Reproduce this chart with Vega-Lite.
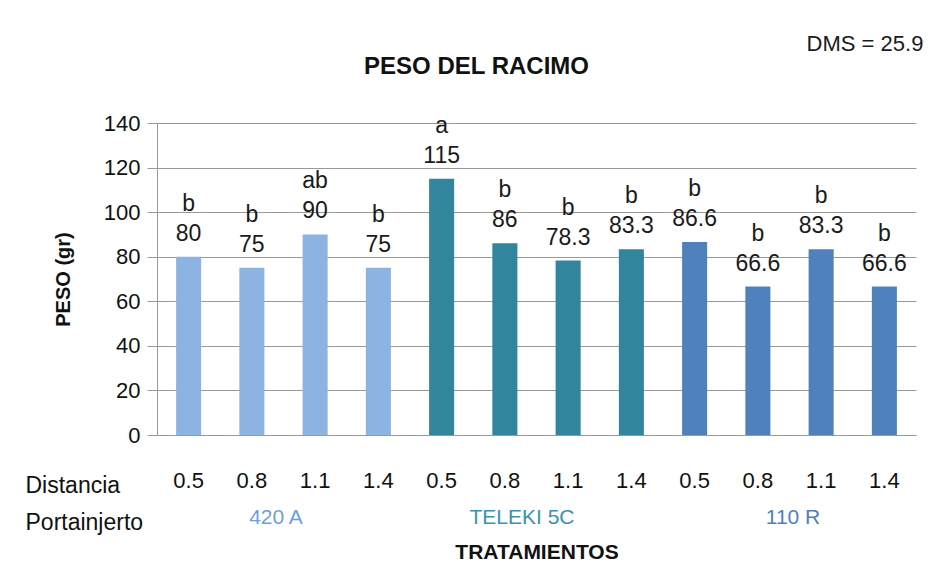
{
  "$schema": "https://vega.github.io/schema/vega-lite/v6.json",
  "width": 759,
  "height": 312,
  "autosize": {"type": "none"},
  "padding": {"left": 157, "top": 123, "right": 16, "bottom": 131},
  "background": "white",
  "config": {
    "font": "Liberation Sans",
    "view": {"stroke": null},
    "axis": {"labelColor": "#111111", "titleColor": "#111111"}
  },
  "title": {
    "text": "PESO DEL RACIMO",
    "fontSize": 24,
    "fontWeight": "bold",
    "anchor": "middle",
    "frame": "group",
    "dx": -60,
    "offset": -46,
    "color": "#111111"
  },
  "data": {
    "values": [
      {"id": 1, "portainjerto": "420 A", "distancia": "0.5", "peso": 80, "letra": "b"},
      {"id": 2, "portainjerto": "420 A", "distancia": "0.8", "peso": 75, "letra": "b"},
      {"id": 3, "portainjerto": "420 A", "distancia": "1.1", "peso": 90, "letra": "ab"},
      {"id": 4, "portainjerto": "420 A", "distancia": "1.4", "peso": 75, "letra": "b"},
      {"id": 5, "portainjerto": "TELEKI 5C", "distancia": "0.5", "peso": 115, "letra": "a"},
      {"id": 6, "portainjerto": "TELEKI 5C", "distancia": "0.8", "peso": 86, "letra": "b"},
      {"id": 7, "portainjerto": "TELEKI 5C", "distancia": "1.1", "peso": 78.3, "letra": "b"},
      {"id": 8, "portainjerto": "TELEKI 5C", "distancia": "1.4", "peso": 83.3, "letra": "b"},
      {"id": 9, "portainjerto": "110 R", "distancia": "0.5", "peso": 86.6, "letra": "b"},
      {"id": 10, "portainjerto": "110 R", "distancia": "0.8", "peso": 66.6, "letra": "b"},
      {"id": 11, "portainjerto": "110 R", "distancia": "1.1", "peso": 83.3, "letra": "b"},
      {"id": 12, "portainjerto": "110 R", "distancia": "1.4", "peso": 66.6, "letra": "b"}
    ]
  },
  "layer": [
    {
      "encoding": {
        "x": {
          "field": "id",
          "type": "ordinal",
          "scale": {"paddingInner": 0.604, "paddingOuter": 0.302},
          "axis": {
            "labelExpr": "['0.5','0.8','1.1','1.4'][(datum.value-1)%4]",
            "labelAngle": 0,
            "labelFontSize": 22,
            "labelPadding": 35,
            "ticks": false,
            "tickSize": 0,
            "domain": true,
            "domainColor": "#999999",
            "grid": false,
            "title": ["Distancia", "Portainjerto"],
            "titleFontSize": 23,
            "titleFontWeight": "normal",
            "titleAlign": "left",
            "titleX": -132,
            "titleY": 39,
            "titleBaseline": "top",
            "titleLineHeight": 37
          }
        },
        "y": {
          "field": "peso",
          "type": "quantitative",
          "scale": {"domain": [0, 140], "nice": false},
          "axis": {
            "values": [0, 20, 40, 60, 80, 100, 120, 140],
            "title": "PESO (gr)",
            "titleFontSize": 20,
            "titleFontWeight": "bold",
            "titlePadding": 30,
            "labelFontSize": 22,
            "labelPadding": 7,
            "tickSize": 10,
            "tickColor": "#999999",
            "domainColor": "#999999",
            "gridColor": "#999999",
            "grid": true
          }
        }
      },
      "layer": [
        {
          "mark": {"type": "bar"},
          "encoding": {
            "color": {
              "field": "portainjerto",
              "type": "nominal",
              "scale": {"domain": ["420 A", "TELEKI 5C", "110 R"], "range": ["#8DB3E2", "#31859C", "#4F81BD"]},
              "legend": null
            }
          }
        },
        {
          "mark": {"type": "text", "fontSize": 23, "dy": -23, "color": "#1a1a1a"},
          "encoding": {"text": {"field": "peso", "type": "nominal"}}
        },
        {
          "mark": {"type": "text", "fontSize": 23, "dy": -53, "color": "#1a1a1a"},
          "encoding": {"text": {"field": "letra", "type": "nominal"}}
        },
        {
          "transform": [{"filter": "datum.id == 12"}],
          "mark": {"type": "text", "fontSize": 22, "align": "right", "baseline": "middle", "dx": 39, "color": "#1a1a1a"},
          "encoding": {
            "y": {"datum": 175.5, "type": "quantitative"},
            "text": {"value": "DMS = 25.9"}
          }
        }
      ]
    },
    {
      "data": {"values": [{"g": "420 A"}, {"g": "TELEKI 5C"}, {"g": "110 R"}]},
      "mark": {"type": "text", "opacity": 0},
      "encoding": {
        "x": {
          "field": "g",
          "type": "nominal",
          "sort": ["420 A", "TELEKI 5C", "110 R"],
          "scale": {"paddingInner": 0, "paddingOuter": 0},
          "axis": {
            "orient": "bottom",
            "domain": false,
            "ticks": false,
            "tickSize": 0,
            "grid": false,
            "labelAngle": 0,
            "labelFontSize": 21,
            "labelPadding": 71,
            "labelColor": {
              "condition": [
                {"test": "datum.value == '420 A'", "value": "#6E9FDB"},
                {"test": "datum.value == 'TELEKI 5C'", "value": "#3A93AB"}
              ],
              "value": "#4F7FBF"
            },
            "labelOffset": {
              "condition": [
                {"test": "datum.value == '420 A'", "value": -8},
                {"test": "datum.value == 'TELEKI 5C'", "value": -15}
              ],
              "value": 3
            },
            "title": "TRATAMIENTOS",
            "titleFontSize": 21,
            "titleFontWeight": "bold",
            "titlePadding": 14
          }
        },
        "text": {"field": "g", "type": "nominal"}
      }
    }
  ],
  "resolve": {"scale": {"x": "independent"}}
}
